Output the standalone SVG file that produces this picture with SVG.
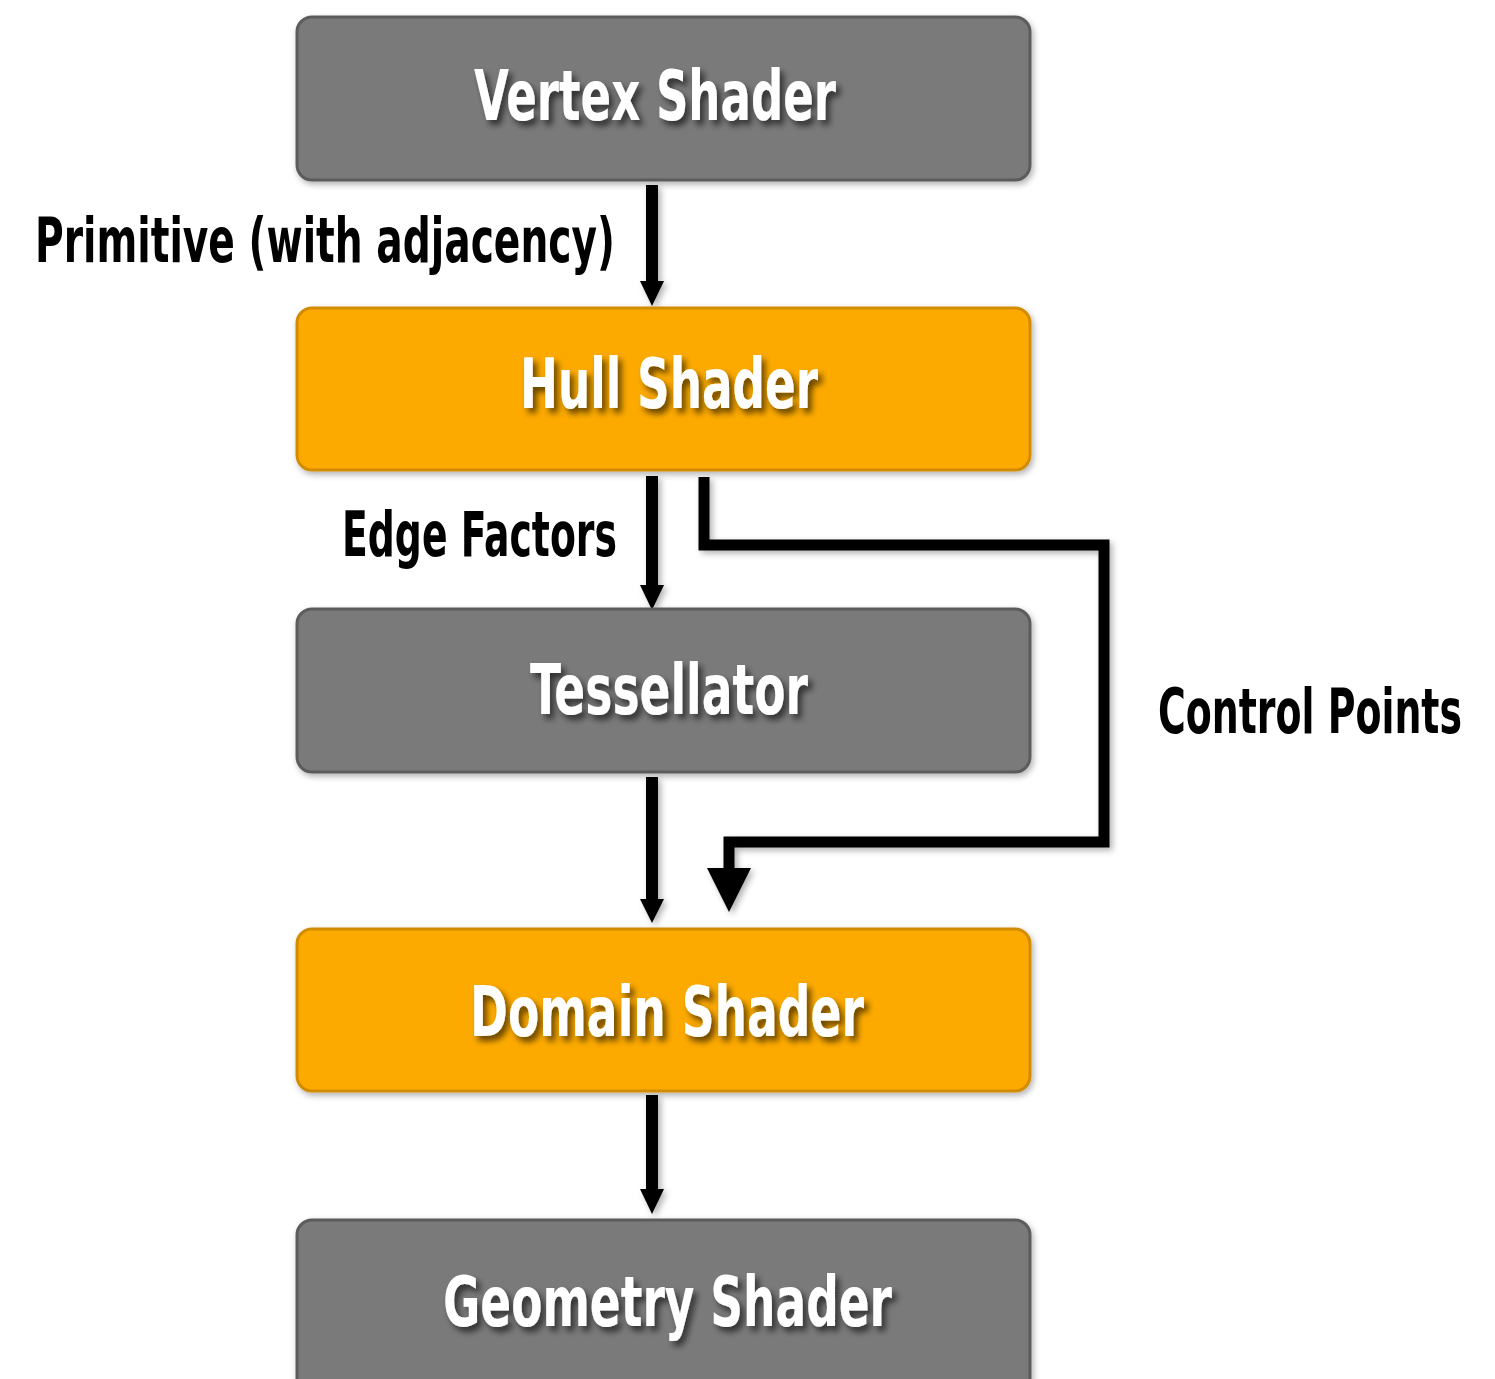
<svg xmlns="http://www.w3.org/2000/svg" width="1495" height="1379" viewBox="0 0 1495 1379">
<defs>
<style>
.box{stroke-width:3}
.gray{fill:#7a7a7a;stroke:#5c5c5c}
.orange{fill:#fdaa00;stroke:#d28c00}
.lbl{font-family:"DejaVu Sans Condensed","DejaVu Sans",sans-serif;font-weight:bold;fill:#fff;text-anchor:start}
.ext{font-family:"DejaVu Sans Condensed","DejaVu Sans",sans-serif;font-weight:bold;fill:#000}
.line{stroke:#000;stroke-width:12;fill:none}
.cline{stroke:#000;stroke-width:11;fill:none;stroke-linejoin:miter}
</style>
<filter id="ts" x="-10%" y="-30%" width="130%" height="170%">
<feDropShadow dx="4" dy="5" stdDeviation="3" flood-color="#000" flood-opacity="0.6"/>
</filter>
<filter id="bs" x="-5%" y="-10%" width="110%" height="130%">
<feDropShadow dx="2" dy="3" stdDeviation="3" flood-color="#000" flood-opacity="0.3"/>
</filter>
<filter id="as" x="-50%" y="-10%" width="200%" height="130%">
<feDropShadow dx="3" dy="3" stdDeviation="3" flood-color="#000" flood-opacity="0.3"/>
</filter>
</defs>
<rect width="1495" height="1379" fill="#fff"/>

<g id="connectors" filter="url(#as)">
<line class="line" x1="652" y1="185" x2="652" y2="282"/>
<polygon points="640,281 664,281 652,306"/>
<line class="line" x1="652" y1="476" x2="652" y2="586"/>
<polygon points="640,585 664,585 652,610"/>
<line class="line" x1="652" y1="777" x2="652" y2="900"/>
<polygon points="640,899 664,899 652,923"/>
<line class="line" x1="652" y1="1095" x2="652" y2="1190"/>
<polygon points="640,1189 664,1189 652,1214"/>
<polyline class="cline" points="704,477 704,545 1104,545 1104,842 729,842 729,870"/>
<polygon points="707,868 751,868 729,912"/>
</g>

<g id="vertex-shader">
<rect class="box gray" x="297" y="17" width="733" height="163" rx="15" filter="url(#bs)"/>
<text class="lbl" x="474" y="120" font-size="70" textLength="362" lengthAdjust="spacingAndGlyphs" filter="url(#ts)">Vertex Shader</text>
</g>

<g id="hull-shader">
<rect class="box orange" x="297" y="308" width="733" height="162" rx="15" filter="url(#bs)"/>
<text class="lbl" x="520" y="408" font-size="70" textLength="298" lengthAdjust="spacingAndGlyphs" filter="url(#ts)">Hull Shader</text>
</g>

<g id="tessellator">
<rect class="box gray" x="297" y="609" width="733" height="163" rx="15" filter="url(#bs)"/>
<text class="lbl" x="530" y="714" font-size="70" textLength="278" lengthAdjust="spacingAndGlyphs" filter="url(#ts)">Tessellator</text>
</g>

<g id="domain-shader">
<rect class="box orange" x="297" y="929" width="733" height="162" rx="15" filter="url(#bs)"/>
<text class="lbl" x="470" y="1036" font-size="70" textLength="394" lengthAdjust="spacingAndGlyphs" filter="url(#ts)">Domain Shader</text>
</g>

<g id="geometry-shader">
<rect class="box gray" x="297" y="1220" width="733" height="180" rx="15" filter="url(#bs)"/>
<text class="lbl" x="443" y="1326" font-size="70" textLength="449" lengthAdjust="spacingAndGlyphs" filter="url(#ts)">Geometry Shader</text>
</g>

<g id="labels">
<text class="ext" x="35" y="262" font-size="62" textLength="580" lengthAdjust="spacingAndGlyphs">Primitive (with adjacency)</text>
<text class="ext" x="342" y="556" font-size="62" textLength="275" lengthAdjust="spacingAndGlyphs">Edge Factors</text>
<text class="ext" x="1158" y="733" font-size="62" textLength="304" lengthAdjust="spacingAndGlyphs">Control Points</text>
</g>
</svg>
